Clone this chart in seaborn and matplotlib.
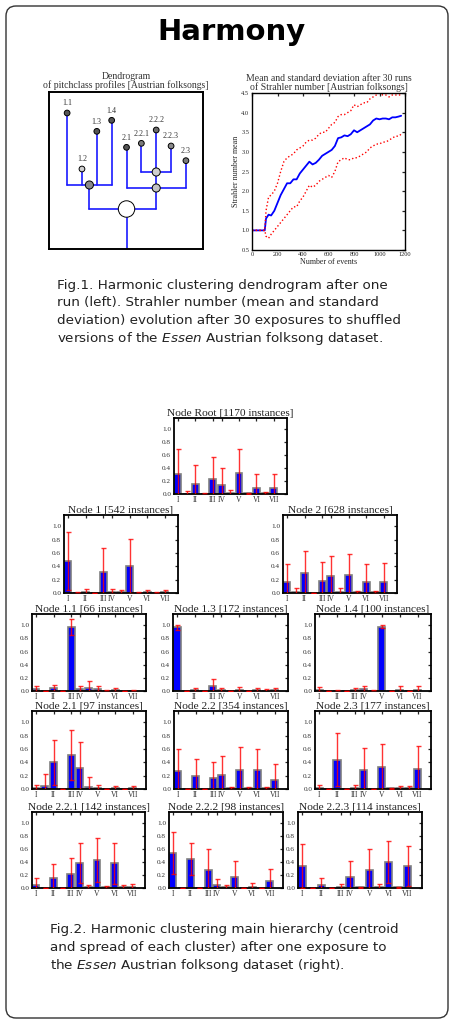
import numpy as np
import pandas as pd
import seaborn as sns
import matplotlib.pyplot as plt
from matplotlib.patches import FancyBboxPatch

W, H = 454, 1023

# --- Strahler number evolution (30 runs) ---
events = [0, 50, 100, 110, 130, 150,
          175, 200, 225, 250, 275, 300, 325, 350, 375, 400,
          425, 450, 475, 500, 525, 550, 575, 600, 625, 650,
          675, 700, 725, 750, 775, 800, 825, 850, 875, 900,
          925, 950, 975, 1000, 1025, 1050, 1075, 1100, 1125, 1150, 1170]
strahler_mean = [1.0, 1.0, 1.0, 1.3, 1.4, 1.38,
                 1.5, 1.7, 1.9, 2.05, 2.2, 2.2, 2.3, 2.3, 2.45, 2.55,
                 2.65, 2.75, 2.68, 2.72, 2.8, 2.9, 2.95, 3.0, 3.05, 3.15,
                 3.35, 3.37, 3.42, 3.4, 3.45, 3.55, 3.5, 3.55, 3.6, 3.65,
                 3.7, 3.8, 3.85, 3.83, 3.85, 3.85, 3.83, 3.88, 3.88, 3.9, 3.92]
strahler_upper = [1.0, 1.0, 1.0, 1.5, 1.85, 1.9,
                  2.0, 2.2, 2.5, 2.75, 2.85, 2.9, 2.95, 3.05, 3.1, 3.15,
                  3.25, 3.3, 3.3, 3.35, 3.45, 3.5, 3.5, 3.6, 3.7, 3.75,
                  3.9, 3.95, 3.95, 4.0, 4.05, 4.2, 4.15, 4.2, 4.25, 4.25,
                  4.35, 4.4, 4.45, 4.5, 4.45, 4.45, 4.4, 4.45, 4.45, 4.45, 4.45]
strahler_lower = [1.0, 1.0, 1.0, 0.85, 0.8, 0.9,
                  1.0, 1.1, 1.2, 1.3, 1.4, 1.5, 1.6, 1.6, 1.75, 1.85,
                  2.0, 2.15, 2.1, 2.15, 2.25, 2.3, 2.35, 2.4, 2.35, 2.5,
                  2.75, 2.8, 2.85, 2.8, 2.8, 2.85, 2.85, 2.9, 2.95, 3.0,
                  3.1, 3.15, 3.2, 3.2, 3.25, 3.25, 3.3, 3.35, 3.4, 3.4, 3.45]

# --- Dendrogram tree ---
leaf_order = ['1.1', '1.2', '1.3', '1.4', '2.1', '2.2.1', '2.2.2', '2.2.3', '2.3']
node_names = ['Root', '1', '2', '1.1', '1.2', '1.3', '1.4', '2.1', '2.2',
              '2.2.1', '2.2.2', '2.2.3', '2.3']
node_parent = [None, 'Root', 'Root', '1', '1', '1', '1', '2', '2',
               '2.2', '2.2', '2.2', '2']
node_height = [1.20, 1.92, 1.83, 4.08, 2.40, 3.53, 3.86, 3.05, 2.31,
               3.17, 3.57, 3.09, 2.65]
node_shade = ['white', '#8a8a8a', '#c4c4c4', '#555555', '#cfcfcf', '#555555',
              '#555555', '#555555', '#cfcfcf', '#7a7a7a', '#6a6a6a', '#8a8a8a', '#7a7a7a']

# --- Cluster centroids (mean) and spread (sd) over the 12 pitch classes ---
deg_pos = [0, 2, 4, 5, 7, 9, 11]
deg_labels = ['I', 'II', 'III', 'IV', 'V', 'VI', 'VII']

mean_root = [0.31, 0.00, 0.16, 0.00, 0.23, 0.14, 0.01, 0.33, 0.01, 0.09, 0.01, 0.09]
sd_root = [0.39, 0.05, 0.29, 0.01, 0.34, 0.26, 0.05, 0.37, 0.01, 0.22, 0.02, 0.22]
mean_1 = [0.48, 0.00, 0.01, 0.00, 0.31, 0.02, 0.01, 0.40, 0.00, 0.01, 0.00, 0.01]
sd_1 = [0.44, 0.01, 0.05, 0.00, 0.36, 0.04, 0.04, 0.41, 0.01, 0.04, 0.02, 0.04]
mean_2 = [0.16, 0.01, 0.30, 0.00, 0.18, 0.25, 0.01, 0.27, 0.01, 0.16, 0.01, 0.17]
sd_2 = [0.28, 0.07, 0.33, 0.00, 0.28, 0.31, 0.06, 0.32, 0.02, 0.28, 0.02, 0.28]
mean_11 = [0.03, 0.00, 0.04, 0.00, 0.97, 0.03, 0.04, 0.03, 0.00, 0.01, 0.00, 0.00]
sd_11 = [0.04, 0.00, 0.05, 0.00, 0.12, 0.04, 0.11, 0.04, 0.01, 0.03, 0.00, 0.02]
mean_13 = [0.97, 0.00, 0.02, 0.00, 0.07, 0.01, 0.00, 0.02, 0.00, 0.01, 0.00, 0.02]
sd_13 = [0.04, 0.00, 0.03, 0.00, 0.11, 0.03, 0.00, 0.04, 0.00, 0.03, 0.03, 0.03]
mean_14 = [0.02, 0.00, 0.00, 0.00, 0.02, 0.03, 0.00, 0.98, 0.00, 0.02, 0.00, 0.02]
sd_14 = [0.04, 0.00, 0.02, 0.00, 0.03, 0.04, 0.01, 0.03, 0.00, 0.05, 0.00, 0.05]
mean_21 = [0.02, 0.04, 0.40, 0.00, 0.51, 0.31, 0.03, 0.02, 0.00, 0.01, 0.00, 0.01]
sd_21 = [0.04, 0.19, 0.34, 0.00, 0.37, 0.39, 0.15, 0.04, 0.00, 0.04, 0.00, 0.03]
mean_22 = [0.27, 0.00, 0.19, 0.00, 0.16, 0.21, 0.01, 0.29, 0.01, 0.28, 0.01, 0.14]
sd_22 = [0.33, 0.00, 0.26, 0.00, 0.25, 0.28, 0.02, 0.34, 0.02, 0.32, 0.02, 0.24]
mean_23 = [0.01, 0.00, 0.44, 0.00, 0.01, 0.28, 0.00, 0.33, 0.01, 0.01, 0.01, 0.30]
sd_23 = [0.05, 0.00, 0.40, 0.00, 0.05, 0.33, 0.00, 0.34, 0.01, 0.04, 0.03, 0.35]
mean_221 = [0.05, 0.00, 0.15, 0.00, 0.21, 0.38, 0.02, 0.43, 0.01, 0.38, 0.01, 0.01]
sd_221 = [0.10, 0.00, 0.22, 0.00, 0.25, 0.31, 0.03, 0.34, 0.02, 0.32, 0.04, 0.05]
mean_222 = [0.54, 0.00, 0.45, 0.00, 0.28, 0.04, 0.01, 0.17, 0.00, 0.01, 0.00, 0.11]
sd_222 = [0.32, 0.00, 0.25, 0.00, 0.32, 0.10, 0.04, 0.25, 0.00, 0.06, 0.00, 0.19]
mean_223 = [0.34, 0.00, 0.05, 0.00, 0.01, 0.17, 0.01, 0.27, 0.01, 0.40, 0.01, 0.34]
sd_223 = [0.34, 0.00, 0.10, 0.00, 0.05, 0.24, 0.01, 0.33, 0.05, 0.32, 0.01, 0.31]

panels = [
    ('Node Root [1170 instances]', mean_root, sd_root, (174, 418, 287, 494)),
    ('Node 1 [542 instances]', mean_1, sd_1, (64, 515, 178, 593)),
    ('Node 2 [628 instances]', mean_2, sd_2, (283, 515, 397, 593)),
    ('Node 1.1 [66 instances]', mean_11, sd_11, (32, 614, 146, 691)),
    ('Node 1.3 [172 instances]', mean_13, sd_13, (173, 614, 288, 691)),
    ('Node 1.4 [100 instances]', mean_14, sd_14, (315, 614, 431, 691)),
    ('Node 2.1 [97 instances]', mean_21, sd_21, (32, 711, 146, 789)),
    ('Node 2.2 [354 instances]', mean_22, sd_22, (174, 711, 288, 789)),
    ('Node 2.3 [177 instances]', mean_23, sd_23, (315, 711, 431, 789)),
    ('Node 2.2.1 [142 instances]', mean_221, sd_221, (32, 812, 145, 888)),
    ('Node 2.2.2 [98 instances]', mean_222, sd_222, (169, 812, 283, 888)),
    ('Node 2.2.3 [114 instances]', mean_223, sd_223, (298, 812, 422, 888)),
]

sns.set_style('white')
plt.rcParams['font.family'] = ['DejaVu Sans']
plt.rcParams['xtick.direction'] = 'in'
plt.rcParams['ytick.direction'] = 'in'
plt.rcParams['xtick.top'] = True
plt.rcParams['ytick.right'] = True
plt.rcParams['xtick.major.size'] = 2.5
plt.rcParams['ytick.major.size'] = 2.5
plt.rcParams['xtick.major.width'] = 0.9
plt.rcParams['ytick.major.width'] = 0.9
plt.rcParams['xtick.major.pad'] = 1.5
plt.rcParams['ytick.major.pad'] = 2
SERIF = 'Liberation Serif'

fig = plt.figure(figsize=(W / 100, H / 100), dpi=100)


def px_axes(l, t, r, b):
    return fig.add_axes([l / W, 1 - b / H, (r - l) / W, (b - t) / H])


# background card, title and captions
bg = fig.add_axes([0, 0, 1, 1])
bg.set_xlim(0, W)
bg.set_ylim(H, 0)
bg.set_axis_off()
bg.add_patch(FancyBboxPatch((6, 6), W - 12, H - 11, boxstyle='round,pad=0,rounding_size=10',
                            facecolor='white', edgecolor='#333333', linewidth=1))
bg.text(232, 32, 'Harmony', fontsize=21, fontweight='bold', ha='center', va='center', color='black')

cap1 = ['Fig.1. Harmonic clustering dendrogram after one',
        'run (left). Strahler number (mean and standard',
        'deviation) evolution after 30 exposures to shuffled',
        r'versions of the $\it{Essen}$ Austrian folksong dataset.']
for i, line in enumerate(cap1):
    bg.text(57, 285 + i * 17.8, line, fontsize=9.7, ha='left', va='center', color='#222222')

cap2 = ['Fig.2. Harmonic clustering main hierarchy (centroid',
        'and spread of each cluster) after one exposure to',
        r'the $\it{Essen}$ Austrian folksong dataset (right).']
for i, line in enumerate(cap2):
    bg.text(50, 930 + i * 17.8, line, fontsize=9.7, ha='left', va='center', color='#222222')

# --- dendrogram ---
ax = px_axes(49, 92, 203, 249)
leaf_x = {name: i for i, name in enumerate(leaf_order)}
height = dict(zip(node_names, node_height))
parent = dict(zip(node_names, node_parent))
children = {n: [c for c in node_names if parent[c] == n] for n in node_names}


def leaves_under(n):
    if not children[n]:
        return [leaf_x[n]]
    out = []
    for c in children[n]:
        out += leaves_under(c)
    return out


node_x = {n: (min(leaves_under(n)) + max(leaves_under(n))) / 2 for n in node_names}
for n in node_names:
    kids = children[n]
    if kids:
        xs = [node_x[c] for c in kids]
        ax.plot([min(xs), max(xs)], [height[n], height[n]], color='#1a1aff', lw=1.2, zorder=1)
        for c in kids:
            ax.plot([node_x[c], node_x[c]], [height[c], height[n]], color='#1a1aff', lw=1.2, zorder=1)
ax.plot([node_x['Root'], node_x['Root']], [0, height['Root']], color='#1a1aff', lw=1.2, zorder=1)

dnodes = pd.DataFrame({'x': [node_x[n] for n in node_names], 'h': node_height, 'name': node_names})
sizes = [140 if n == 'Root' else (34 if children[n] else 17) for n in node_names]
sns.scatterplot(data=dnodes, x='x', y='h', hue='name', palette=dict(zip(node_names, node_shade)),
                s=sizes, edgecolor='black', linewidth=0.7, legend=False, ax=ax, zorder=3)
for n in leaf_order:
    ax.text(node_x[n], height[n] + 0.17, n, fontsize=5.8, family=SERIF, color='#333333',
            ha='center', va='bottom')
ax.set_xlim(-1.22, 9.15)
ax.set_ylim(0, 4.71)
ax.set_xticks([])
ax.set_yticks([])
ax.set_xlabel('')
ax.set_ylabel('')
for sp in ax.spines.values():
    sp.set_linewidth(1.4)
    sp.set_color('black')
ax.set_title('Dendrogram\nof pitchclass profiles [Austrian folksongs]', fontsize=7.0,
             family=SERIF, pad=3, linespacing=0.95, color='#333333')

# --- Strahler number evolution ---
ax = px_axes(252, 93, 405, 250)
sns.lineplot(x=events, y=strahler_mean, color='blue', lw=1.3, ax=ax)
sns.lineplot(x=events, y=strahler_upper, color='red', lw=1.0, linestyle=':', ax=ax)
sns.lineplot(x=events, y=strahler_lower, color='red', lw=1.0, linestyle=':', ax=ax)
ax.set_xlim(0, 1200)
ax.set_ylim(0.5, 4.5)
ax.set_xticks(range(0, 1201, 200))
ax.set_yticks(np.arange(0.5, 4.51, 0.5))
ax.tick_params(labelsize=4.6, length=2)
for lab in ax.get_xticklabels() + ax.get_yticklabels():
    lab.set_family(SERIF)
ax.set_xlabel('Number of events', fontsize=5.8, family=SERIF, labelpad=1)
ax.set_ylabel('Strahler number mean', fontsize=5.8, family=SERIF, labelpad=1)
for sp in ax.spines.values():
    sp.set_linewidth(1.0)
    sp.set_color('black')
ax.set_title('Mean and standard deviation after 30 runs\nof Strahler number [Austrian folksongs]',
             fontsize=7.0, family=SERIF, pad=2, linespacing=0.95, color='#333333')

# --- cluster centroid bar charts ---
for title, mean, sd, box in panels:
    ax = px_axes(*box)
    df = pd.DataFrame({'pc': list(range(12)), 'mean': mean})
    sns.barplot(data=df, x='pc', y='mean', color='blue', saturation=1, width=0.8,
                edgecolor='#808080', linewidth=1.2, ax=ax)
    ax.errorbar(list(range(12)), mean, yerr=sd, fmt='none', ecolor='red', elinewidth=1.0,
                capsize=1.8, capthick=1.0, alpha=0.8, zorder=4)
    ax.set_xlim(-0.45, 12.5)
    ax.set_ylim(0, 1.17)
    ax.set_xticks(deg_pos)
    ax.set_xticklabels(deg_labels)
    ax.set_yticks([0, 0.2, 0.4, 0.6, 0.8, 1.0])
    ax.set_yticklabels(['0.0', '0.2', '0.4', '0.6', '0.8', '1.0'])
    ax.tick_params(labelsize=5.5, length=2.5)
    ax.tick_params(axis='y', labelsize=5.2)
    for lab in ax.get_xticklabels() + ax.get_yticklabels():
        lab.set_family(SERIF)
        lab.set_color('#333333')
    ax.set_xlabel('')
    ax.set_ylabel('')
    for sp in ax.spines.values():
        sp.set_linewidth(1.3)
        sp.set_color('black')
    ax.set_title(title, fontsize=8.2, family=SERIF, pad=1.5, color='#222222')

fig.savefig('out.png', dpi=100)
